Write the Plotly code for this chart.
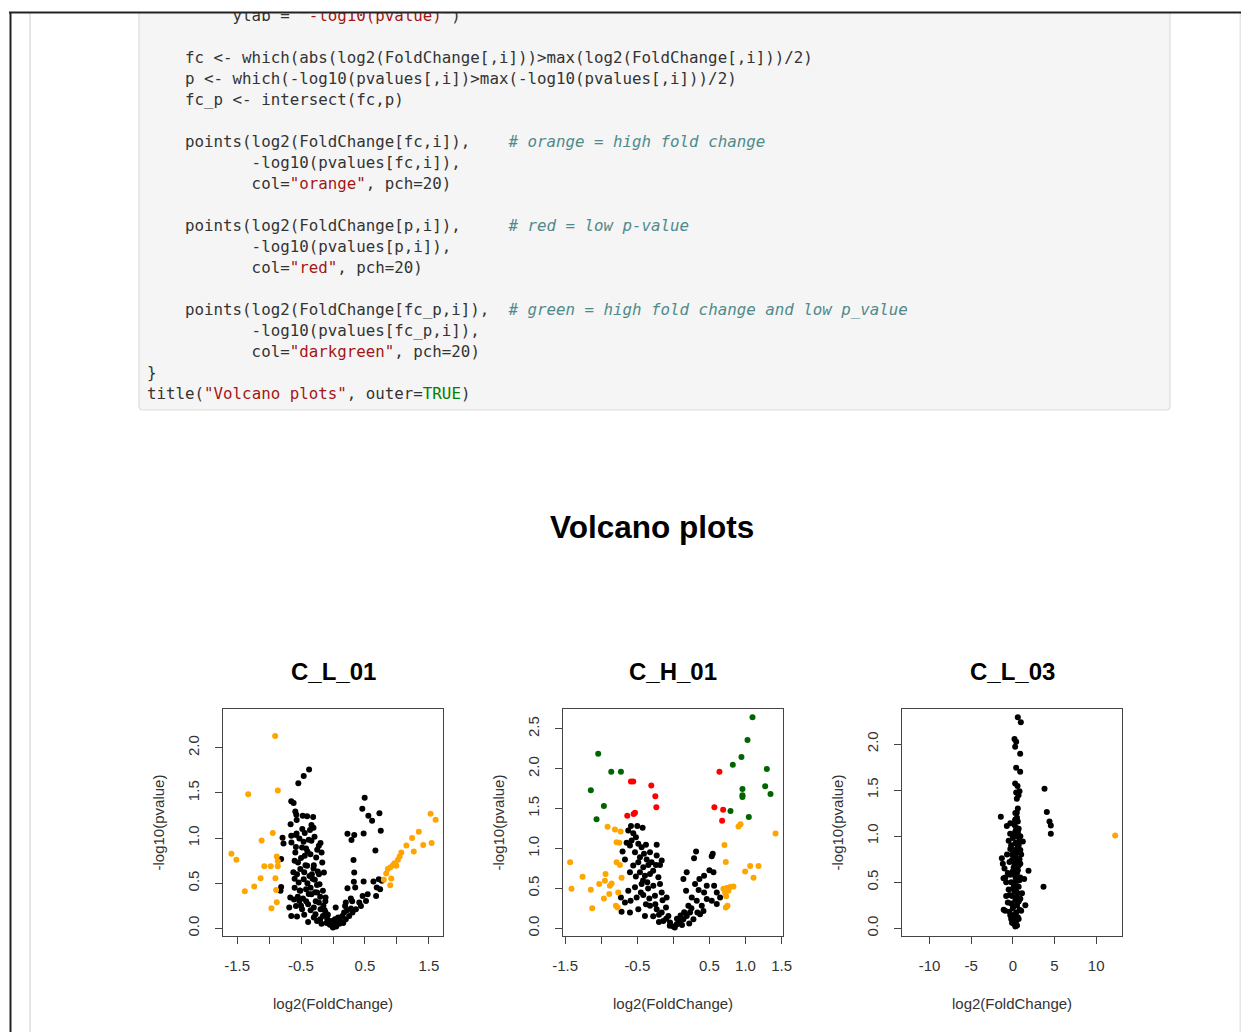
import plotly.graph_objects as go

W, H = 1249, 1032
BODY = 8  # page body margin of the html page that holds the figure

# ---------------- data ----------------
panel_titles = ["C_L_01", "C_H_01", "C_L_03"]
main_title = "Volcano plots"
x_label = "log2(FoldChange)"
y_label = "-log10(pvalue)"

# Panel 1 : C_L_01
p1_black = [(-0.374,1.759),(-0.458,1.689),(-0.542,1.607),(-0.653,1.407),(-0.616,1.389),(-0.589,1.293),
            (-0.574,1.259),(-0.474,1.248),(-0.405,1.241),(-0.311,1.233),(-0.568,1.200),(-0.663,1.152),
            (-0.337,1.144),(-0.305,1.115),(-0.789,1.004),(-0.774,0.941),(-0.653,1.026),(-0.579,1.033),
            (-0.526,0.996),(-0.442,1.056),(-0.379,0.981),(-0.337,0.970),(-0.289,1.015),(-0.195,0.944),
            (-0.221,0.915),(-0.589,0.841),(-0.484,0.896),(-0.421,0.885),(-0.247,0.870),(-0.811,0.767),
            (-0.547,0.730),(-0.442,0.804),(-0.353,0.822),(-0.263,0.785),(-0.179,0.841),(-0.563,0.600),
            (-0.511,0.656),(-0.405,0.693),(-0.305,0.663),(-0.237,0.630),(-0.168,0.730),(-0.537,0.507),
            (-0.458,0.544),(-0.368,0.581),(-0.284,0.537),(-0.211,0.489),(-0.142,0.619),(-0.811,0.459),
            (-0.821,0.415),(-0.668,0.341),(-0.511,0.415),(-0.421,0.433),(-0.337,0.378),(-0.247,0.396),
            (-0.158,0.415),(-0.116,0.341),(-0.684,0.230),(-0.653,0.137),(-0.563,0.130),(-0.579,0.248),
            (-0.484,0.211),(-0.526,0.304),(-0.389,0.267),(-0.300,0.230),(-0.389,0.070),(-0.274,0.156),
            (-0.221,0.285),(-0.195,0.211),(-0.158,0.137),(-0.116,0.174),(-0.089,0.100),(-0.063,0.063),
            (-0.011,0.026),(0.016,0.044),(-0.037,0.081),(0.042,0.230),(0.068,0.081),(0.105,0.100),
            (0.147,0.137),(0.174,0.174),(0.189,0.248),(0.200,0.285),(0.279,0.330),(0.226,0.444),
            (0.347,0.452),(0.332,0.619),(0.321,0.756),(0.326,0.515),(0.226,1.048),(0.289,0.978),
            (0.332,1.033),(0.479,1.052),(0.458,1.326),(0.495,1.448),(0.553,1.248),(0.611,1.193),
            (0.726,1.274),(0.747,1.081),(0.663,0.863),(0.632,0.519),(0.684,0.452),(0.674,0.359),
            (0.737,0.433),(0.479,0.519),(0.463,0.359),(0.411,0.285),(0.437,0.248),(0.516,0.304),
            (0.542,0.378),(0.716,0.544),(0.763,0.526),(0.305,0.174),(0.358,0.211),(0.253,0.137),
            (-0.600,0.750),(-0.500,0.780),(-0.450,0.620),(-0.400,0.500),(-0.350,0.450),(-0.300,0.700),
            (-0.250,0.480),(-0.200,0.350),(-0.150,0.250),(-0.120,0.300),(-0.550,0.350),(-0.500,0.250),
            (-0.450,0.150),(-0.420,0.300),(-0.350,0.200),(-0.300,0.120),(-0.250,0.080),(-0.200,0.100),
            (-0.180,0.050),(-0.100,0.060),(-0.050,0.040),(0.000,0.010),(0.050,0.020),(0.100,0.050),
            (0.080,0.120),(0.120,0.070),(0.200,0.100),(0.220,0.200),(0.280,0.220),(0.300,0.300),
            (-0.600,0.550),(-0.580,0.900),(-0.480,1.100),(-0.400,0.850),(-0.320,0.550),(-0.280,0.400),
            (-0.220,0.600),(-0.600,0.450),(-0.520,0.420),(-0.380,0.380),(-0.620,0.620),(-0.650,0.950),
            (-0.570,1.050),(-0.460,0.960),(-0.360,1.090),(-0.430,0.700),(-0.270,0.300),(-0.130,0.200),
            (-0.080,0.150),(0.030,0.100),(0.160,0.060),(-0.330,0.600),(-0.470,0.330),(-0.610,0.320)]
p1_orange = [(-0.905,2.130),(-1.326,1.485),(-0.863,1.526),(-0.942,1.056),(-1.116,0.974),(-1.589,0.826),
             (-1.511,0.759),(-0.879,0.796),(-0.863,0.744),(-1.074,0.689),(-0.974,0.689),(-0.863,0.689),
             (-1.132,0.556),(-0.900,0.556),(-1.232,0.463),(-1.379,0.411),(-0.889,0.426),(-0.879,0.289),
             (-0.963,0.222),(1.526,1.270),(1.605,1.204),(1.342,1.070),(1.237,1.000),(1.147,0.919),
             (1.542,0.944),(1.411,0.922),(1.263,0.852),(1.068,0.841),(1.042,0.796),(1.016,0.759),
             (0.963,0.722),(0.937,0.700),(0.900,0.678),(0.858,0.656),(0.832,0.607),(0.795,0.537),
             (0.911,0.552),(0.895,0.478),(0.990,0.693)]

# Panel 2 : C_H_01
p2_black = [(-0.588,1.282),(-0.500,1.282),(-0.426,1.261),(-0.625,1.227),(-0.556,1.193),(-0.519,1.143),
            (-0.579,1.101),(-0.648,1.071),(-0.704,0.962),(-0.602,1.038),(-0.486,1.059),(-0.440,1.017),
            (-0.532,0.954),(-0.380,1.046),(-0.231,1.046),(-0.407,0.933),(-0.324,0.954),(-0.231,0.912),
            (-0.162,0.849),(-0.671,0.861),(-0.463,0.891),(-0.370,0.861),(-0.301,0.828),(-0.241,0.794),
            (-0.556,0.786),(-0.486,0.828),(-0.417,0.765),(-0.347,0.794),(-0.185,0.794),(-0.602,0.702),
            (-0.463,0.702),(-0.394,0.660),(-0.324,0.681),(-0.208,0.639),(-0.727,0.387),(-0.625,0.471),
            (-0.532,0.513),(-0.440,0.555),(-0.361,0.576),(-0.278,0.534),(-0.185,0.555),(-0.671,0.324),
            (-0.593,0.345),(-0.509,0.387),(-0.417,0.416),(-0.333,0.374),(-0.255,0.408),(-0.162,0.450),
            (-0.093,0.387),(-0.718,0.206),(-0.602,0.197),(-0.486,0.239),(-0.394,0.155),(-0.324,0.282),
            (-0.231,0.239),(-0.162,0.197),(-0.102,0.261),(-0.069,0.155),(-0.139,0.092),(-0.046,0.071),
            (0.000,0.021),(0.046,0.050),(0.093,0.092),(0.139,0.113),(0.185,0.155),(0.231,0.197),
            (0.278,0.113),(0.208,0.282),(0.255,0.387),(0.176,0.471),(0.139,0.618),(0.185,0.702),
            (0.315,0.962),(0.287,0.878),(0.301,0.555),(0.361,0.618),(0.426,0.660),(0.463,0.534),
            (0.546,0.933),(0.532,0.903),(0.500,0.727),(0.556,0.702),(0.565,0.534),(0.602,0.450),
            (0.648,0.387),(0.602,0.303),(0.532,0.345),(0.463,0.366),(0.394,0.282),(0.370,0.176),
            (0.417,0.218),(0.324,0.345),(0.426,0.450),(0.333,0.197),
            (-0.050,0.030),(0.020,0.010),(0.070,0.060),(-0.100,0.120),(0.120,0.040),(-0.200,0.170),
            (0.150,0.200),(-0.250,0.300),(0.250,0.250),(-0.280,0.150),(-0.200,0.080),(0.100,0.160),
            (-0.350,0.500),(-0.280,0.720),(-0.420,0.600),(-0.520,0.650),(-0.150,0.350),(0.050,0.120),
            (-0.380,0.300),(-0.450,0.450),(0.350,0.480),(0.220,0.060)]
p2_orange = [(-0.912,1.273),(-0.810,1.239),(-0.731,1.214),(-0.787,1.080),(-0.750,1.071),(-1.431,0.828),
             (-0.787,0.828),(-0.741,0.794),(-1.259,0.647),(-0.940,0.681),(-1.412,0.496),(-1.144,0.483),
             (-1.028,0.555),(-0.949,0.597),(-0.880,0.534),(-0.856,0.563),(-0.718,0.635),(-0.963,0.374),
             (-0.889,0.429),(-1.125,0.252),(-0.764,0.450),(-0.796,0.282),(-0.773,0.261),(0.903,1.277),
             (0.931,1.306),(1.417,1.188),(0.708,1.043),(0.727,0.831),(0.995,0.711),(1.065,0.782),
             (1.180,0.782),(1.111,0.635),(0.694,0.496),(0.741,0.504),(0.787,0.517),(0.833,0.525),
             (0.718,0.450),(0.764,0.471),(0.731,0.400),(0.727,0.261),(0.750,0.282)]
p2_red = [(-0.588,1.840),(-0.556,1.840),(-0.306,1.790),(-0.250,1.655),(-0.236,1.517),(-0.639,1.412),
          (-0.551,1.433),(-0.532,1.450),(0.639,1.962),(0.569,1.517),(0.690,1.487),(0.676,1.349)]
p2_green = [(1.097,2.647),(1.028,2.361),(0.944,2.147),(0.824,2.050),(1.296,1.996),(1.273,1.782),
            (1.347,1.685),(0.958,1.748),(0.958,1.668),(0.958,1.647),(0.792,1.471),(1.046,1.395),
            (-1.042,2.189),(-0.861,1.962),(-0.727,1.962),(-1.144,1.731),(-0.963,1.534),(-1.065,1.366)]

# Panel 3 : C_L_03
p3_black = [(0.60,2.290),(0.96,2.236),(0.20,2.055),(0.40,2.025),(0.28,1.971),(0.88,1.895),(0.40,1.742),
            (0.88,1.698),(0.28,1.571),(0.56,1.545),(0.80,1.487),(0.40,1.473),(0.68,1.444),(0.48,1.407),
            (3.80,1.513),(4.08,1.262),(4.40,1.160),(4.56,1.116),(4.56,1.025),(-1.44,1.211),(3.68,0.451),
            (1.88,0.625),(-0.72,1.109),(0.48,1.255),(0.28,1.171),(0.56,1.051),(-0.32,1.025),(-1.32,0.760),
            (1.20,0.942),(1.36,0.535),(-1.12,0.542),(-0.92,0.189),
            (0.3,0.02),(0.1,0.05),(0.4,0.08),(-0.2,0.10),(0.6,0.12),(0.2,0.15),(-0.4,0.18),(0.8,0.20),
            (0.0,0.22),(0.5,0.25),(-0.6,0.28),(0.3,0.30),(0.9,0.32),(-0.1,0.35),(0.6,0.38),(0.2,0.40),
            (-0.5,0.42),(0.7,0.45),(0.1,0.48),(-0.8,0.50),(0.4,0.52),(0.9,0.55),(-0.3,0.58),(0.5,0.60),
            (0.0,0.62),(-1.0,0.65),(0.7,0.68),(0.2,0.70),(-0.4,0.72),(0.8,0.75),(0.3,0.78),(-0.7,0.80),
            (0.5,0.82),(0.1,0.85),(0.6,0.88),(-0.2,0.90),(0.4,0.93),(0.8,0.95),(0.0,0.98),(0.5,1.00),
            (0.3,1.05),(0.7,1.08),(0.2,1.12),(0.5,1.20),(0.3,1.25),(0.6,1.30),
            (0.5,0.03),(-0.1,0.06),(0.2,0.09),(0.7,0.10),(-0.3,0.14),(0.4,0.17),(1.0,0.19),(0.1,0.24),
            (-0.2,0.27),(0.7,0.29),(0.4,0.33),(-0.4,0.36),(1.1,0.38),(0.0,0.43),(0.5,0.46),(-0.2,0.50),
            (0.8,0.52),(0.3,0.56),(-0.6,0.60),(0.6,0.63),(0.1,0.66),(0.9,0.70),(-0.1,0.74),(0.4,0.76),
            (1.0,0.80),(0.2,0.83),(-0.3,0.86),(0.7,0.90),(0.3,0.92),(-0.5,0.95),(0.9,1.00),(0.1,1.02),
            (0.6,1.04),(0.4,1.09),(-0.3,1.14),(0.6,1.16),(0.3,1.18),(-1.2,0.70),(-0.9,0.55),(-1.1,0.20),
            (1.5,0.25),(-0.8,0.35),(0.2,0.60),(0.6,0.72),(-0.1,0.80),(0.9,0.85),(0.4,0.40),(0.7,0.30),
            (0.2,0.50)]
p3_orange = [(12.28,1.007)]

# axis ticks
x_ticks_12 = [-1.5, -1.0, -0.5, 0.0, 0.5, 1.0, 1.5]
x_text_1 = ["-1.5", "", "-0.5", "", "0.5", "", "1.5"]
x_text_2 = ["-1.5", "", "-0.5", "", "0.5", "1.0", "1.5"]
x_ticks_3 = [-10, -5, 0, 5, 10]
x_text_3 = ["-10", "-5", "0", "5", "10"]
y_ticks_13 = [0.0, 0.5, 1.0, 1.5, 2.0]
y_ticks_2 = [0.0, 0.5, 1.0, 1.5, 2.0, 2.5]

# colours
C_BLACK, C_ORANGE, C_RED, C_GREEN = "#000000", "#FFA500", "#FF0000", "#006400"

# code listing shown above the chart
NB = "\u00a0"
def sp(n):
    return NB * n
S = lambda s: f"<span style='color:#a31515'>{s}</span>"
CM = lambda s: f"<span style='color:#4f8a8b'><i>{s}</i></span>"
code_lines = [
    (17,  sp(9) + "ylab = " + S('"-log10(pvalue)"') + ")"),
    (59,  sp(4) + "fc &lt;- which(abs(log2(FoldChange[,i]))&gt;max(log2(FoldChange[,i]))/2)"),
    (80,  sp(4) + "p &lt;- which(-log10(pvalues[,i])&gt;max(-log10(pvalues[,i]))/2)"),
    (101, sp(4) + "fc_p &lt;- intersect(fc,p)"),
    (143, sp(4) + "points(log2(FoldChange[fc,i])," + sp(4) + CM("# orange = high fold change")),
    (164, sp(11) + "-log10(pvalues[fc,i]),"),
    (185, sp(11) + "col=" + S('"orange"') + ", pch=20)"),
    (227, sp(4) + "points(log2(FoldChange[p,i])," + sp(5) + CM("# red = low p-value")),
    (248, sp(11) + "-log10(pvalues[p,i]),"),
    (269, sp(11) + "col=" + S('"red"') + ", pch=20)"),
    (311, sp(4) + "points(log2(FoldChange[fc_p,i])," + sp(2) + CM("# green = high fold change and low p_value")),
    (332, sp(11) + "-log10(pvalues[fc_p,i]),"),
    (353, sp(11) + "col=" + S('"darkgreen"') + ", pch=20)"),
    (374, "}"),
    (395, "title(" + S('"Volcano plots"') + ", outer=<span style='color:#008000'>TRUE</span>)"),
]

# ---------------- layout helpers (page pixel -> paper) ----------------
def fx(x):
    return (x - BODY) / W
def fy(y):
    return 1 - (y - BODY) / H

boxes = [(223, 443), (563, 783), (902, 1122)]
BOX_TOP, BOX_BOT = 709, 936
x_ranges = [[-1.72, 1.72], [-1.53, 1.52], [-13.3, 13.1]]
y_ranges = [[-0.085, 2.43], [-0.097, 2.75], [-0.084, 2.38]]
x_tv = [x_ticks_12, x_ticks_12, x_ticks_3]
x_tt = [x_text_1, x_text_2, x_text_3]
y_tv = [y_ticks_13, y_ticks_2, y_ticks_13]

fig = go.Figure()

def add_pts(pts, color, idx):
    ax = "" if idx == 1 else str(idx)
    fig.add_trace(go.Scatter(
        x=[p[0] for p in pts], y=[p[1] for p in pts], mode="markers",
        marker=dict(color=color, size=6, line=dict(width=0)),
        xaxis="x" + ax, yaxis="y" + ax, showlegend=False, hoverinfo="x+y"))

add_pts(p1_black, C_BLACK, 1)
add_pts(p1_orange, C_ORANGE, 1)
add_pts(p2_black, C_BLACK, 2)
add_pts(p2_orange, C_ORANGE, 2)
add_pts(p2_red, C_RED, 2)
add_pts(p2_green, C_GREEN, 2)
add_pts(p3_black, C_BLACK, 3)
add_pts(p3_orange, C_ORANGE, 3)

# code text trace in a pixel-unit subplot (clipped at the page top)
CODE_X = 147
fig.add_trace(go.Scatter(
    x=[CODE_X] * len(code_lines), y=[c[0] for c in code_lines],
    text=[c[1] for c in code_lines], mode="text", textposition="middle right",
    textfont=dict(family="DejaVu Sans Mono", size=15.8, color="#333333"),
    xaxis="x4", yaxis="y4", showlegend=False, hoverinfo="skip", cliponaxis=True))

TICKF = dict(family="Liberation Sans, Arial", size=15, color="#333333")
lay = dict(width=W, height=H, margin=dict(l=0, r=0, t=0, b=0, autoexpand=False),
           paper_bgcolor="white", plot_bgcolor="rgba(0,0,0,0)", showlegend=False)
for i in range(3):
    ax = "" if i == 0 else str(i + 1)
    l, r = boxes[i]
    lay["xaxis" + ax] = dict(domain=[fx(l), fx(r)], range=x_ranges[i], tickvals=x_tv[i], ticktext=x_tt[i],
                             ticks="outside", ticklen=7, tickwidth=1, tickcolor="#444",
                             showline=True, mirror=True, linecolor="#444", linewidth=1,
                             showgrid=False, zeroline=False, tickfont=TICKF, ticklabelstandoff=9,
                             anchor="y" + ax, fixedrange=True, automargin=False)
    lay["yaxis" + ax] = dict(domain=[fy(BOX_BOT), fy(BOX_TOP)], range=y_ranges[i], tickvals=y_tv[i],
                             ticktext=[f"{v:.1f}" for v in y_tv[i]], tickangle=-90,
                             ticks="outside", ticklen=7, tickwidth=1, tickcolor="#444",
                             showline=True, mirror=True, linecolor="#444", linewidth=1,
                             showgrid=False, zeroline=False, tickfont=TICKF, ticklabelstandoff=10,
                             anchor="x" + ax, fixedrange=True, automargin=False)
lay["xaxis4"] = dict(domain=[0, 1], range=[BODY, W + BODY], visible=False, fixedrange=True, anchor="y4")
lay["yaxis4"] = dict(domain=[fy(420), fy(12)], range=[420, 12], visible=False, fixedrange=True, anchor="x4")

shapes = []
# code box (rounded) in pixel units of the code subplot
shapes.append(dict(type="path", xref="x4", yref="y4",
                   path="M 143,2 L 1166,2 Q 1170,2 1170,6 L 1170,406 Q 1170,410 1166,410 L 143,410 "
                        "Q 139,410 139,406 L 139,6 Q 139,2 143,2 Z",
                   fillcolor="#f5f5f5", line=dict(color="#dddddd", width=1.2), layer="below"))
# page frame lines
shapes.append(dict(type="line", xref="paper", yref="paper", x0=fx(30), x1=fx(30), y0=0, y1=fy(12),
                   line=dict(color="#e6e6e6", width=2)))
shapes.append(dict(type="line", xref="paper", yref="paper", x0=fx(1240.5), x1=fx(1240.5), y0=0, y1=fy(12),
                   line=dict(color="#e6e6e6", width=2)))
shapes.append(dict(type="line", xref="paper", yref="paper", x0=fx(9), x1=1, y0=fy(12.5), y1=fy(12.5),
                   line=dict(color="#222222", width=2)))
shapes.append(dict(type="line", xref="paper", yref="paper", x0=fx(10.5), x1=fx(10.5), y0=0, y1=fy(12),
                   line=dict(color="#222222", width=2)))
lay["shapes"] = shapes

ann = []
ann.append(dict(text=f"<b>{main_title}</b>", x=fx(652), y=fy(527), xref="paper", yref="paper",
                showarrow=False, xanchor="center", yanchor="middle",
                font=dict(family="Liberation Sans, Arial", size=31.5, color="#000")))
for i in range(3):
    l, r = boxes[i]
    cx = (l + r) / 2
    ann.append(dict(text=f"<b>{panel_titles[i]}</b>", x=fx(cx), y=fy(671), xref="paper", yref="paper",
                    showarrow=False, xanchor="center", yanchor="middle",
                    font=dict(family="Liberation Sans, Arial", size=24, color="#000")))
    ann.append(dict(text=x_label, x=fx(cx), y=fy(1003), xref="paper", yref="paper",
                    showarrow=False, xanchor="center", yanchor="middle", font=TICKF))
    ann.append(dict(text=y_label, x=fx(l - 65), y=fy((BOX_TOP + BOX_BOT) / 2), xref="paper", yref="paper",
                    showarrow=False, xanchor="center", yanchor="middle", textangle=-90, font=TICKF))
lay["annotations"] = ann

fig.update_layout(**lay)
fig.write_html("out.html")
